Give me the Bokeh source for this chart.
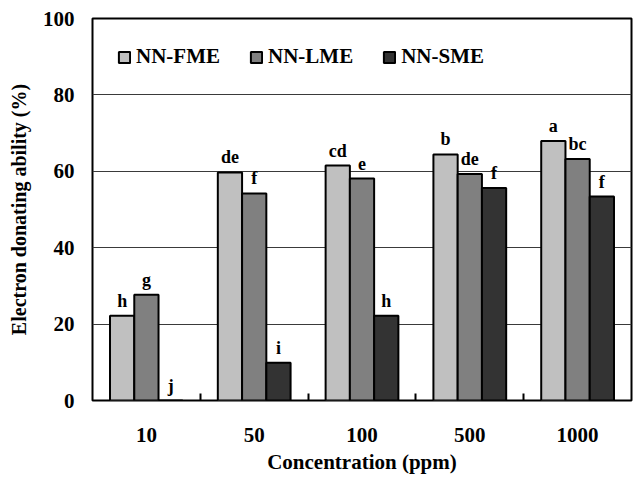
from bokeh.plotting import figure
from bokeh.models import Range1d, FixedTicker, ColumnDataSource, LabelSet, Legend, LegendItem
from bokeh.embed import file_html
from bokeh.resources import INLINE

categories = ["10", "50", "100", "500", "1000"]
series_names = ["NN-FME", "NN-LME", "NN-SME"]
fme = [22.2, 59.7, 61.5, 64.4, 67.9]
lme = [27.7, 54.2, 58.1, 59.3, 63.2]
sme = [0.0, 9.9, 22.2, 55.6, 53.4]
fme_letters = ["h", "de", "cd", "b", "a"]
lme_letters = ["g", "f", "e", "de", "bc"]
sme_letters = ["j", "i", "h", "f", "f"]
colors = ["#C0C0C0", "#808080", "#333333"]
y_ticks = [0, 20, 40, 60, 80, 100]

FONT = "Liberation Serif"
n = len(categories)
bw = 0.225

p = figure(width=634, height=486, output_backend="svg", toolbar_location=None,
           x_range=Range1d(0, n), y_range=Range1d(0, 100),
           min_border_left=92, min_border_right=3, min_border_top=18, min_border_bottom=86)
p.outline_line_color = "black"
p.outline_line_width = 2
p.background_fill_color = "white"
p.border_fill_color = "white"

centers = [i + 0.5 for i in range(n)]
items = []
for k, (vals, letters, name, col) in enumerate(zip([fme, lme, sme],
                                                   [fme_letters, lme_letters, sme_letters],
                                                   series_names, colors)):
    xs = [c + (k - 1) * bw for c in centers]
    src = ColumnDataSource(dict(x=xs, top=vals, lab=letters))
    r = p.vbar(x="x", top="top", width=bw, bottom=0, source=src,
               fill_color=col, line_color="black", line_width=2)
    items.append(LegendItem(label=name, renderers=[r]))
    ls = LabelSet(x="x", y="top", text="lab", source=src, text_align="center",
                  text_baseline="alphabetic", y_offset=9, text_font=FONT,
                  text_font_style="bold", text_font_size="18px", text_color="black")
    p.add_layout(ls)

# axes
p.xgrid.visible = False
p.yaxis.ticker = FixedTicker(ticks=y_ticks)
p.ygrid.grid_line_color = "#3a3a3a"
p.ygrid.grid_line_width = 1

xa = p.xaxis[0]
xa.ticker = FixedTicker(ticks=centers, minor_ticks=[i for i in range(1, n)])
xa.major_label_overrides = {c: lab for c, lab in zip(centers, categories)}
xa.major_tick_in = 0
xa.major_tick_out = 0
xa.minor_tick_in = 7
xa.minor_tick_out = 0
xa.minor_tick_line_width = 2
xa.minor_tick_line_color = "black"
xa.axis_line_color = None
xa.major_label_standoff = 27
xa.axis_label = "Concentration (ppm)"
xa.axis_label_standoff = 5

ya = p.yaxis[0]
ya.major_tick_in = 0
ya.major_tick_out = 0
ya.minor_tick_line_color = None
ya.axis_line_color = None
ya.major_label_standoff = 18
ya.axis_label = "Electron donating ability (%)"
ya.axis_label_standoff = 10

for ax in (xa, ya):
    ax.major_label_text_font = FONT
    ax.major_label_text_font_style = "bold"
    ax.major_label_text_font_size = "21px"
    ax.major_label_text_color = "black"
    ax.axis_label_text_font = FONT
    ax.axis_label_text_font_style = "bold"
    ax.axis_label_text_font_size = "21px"
    ax.axis_label_text_color = "black"
ya.axis_label_text_font_size = "20px"

legend = Legend(items=items, orientation="horizontal", location=(25, 331),
                glyph_width=14, glyph_height=14, label_standoff=5, spacing=29,
                padding=0, margin=0, border_line_color=None, background_fill_alpha=0,
                label_text_font=FONT, label_text_font_style="bold",
                label_text_font_size="21px", label_text_color="black")
p.add_layout(legend)

open("out.html", "w").write(file_html(p, INLINE))
